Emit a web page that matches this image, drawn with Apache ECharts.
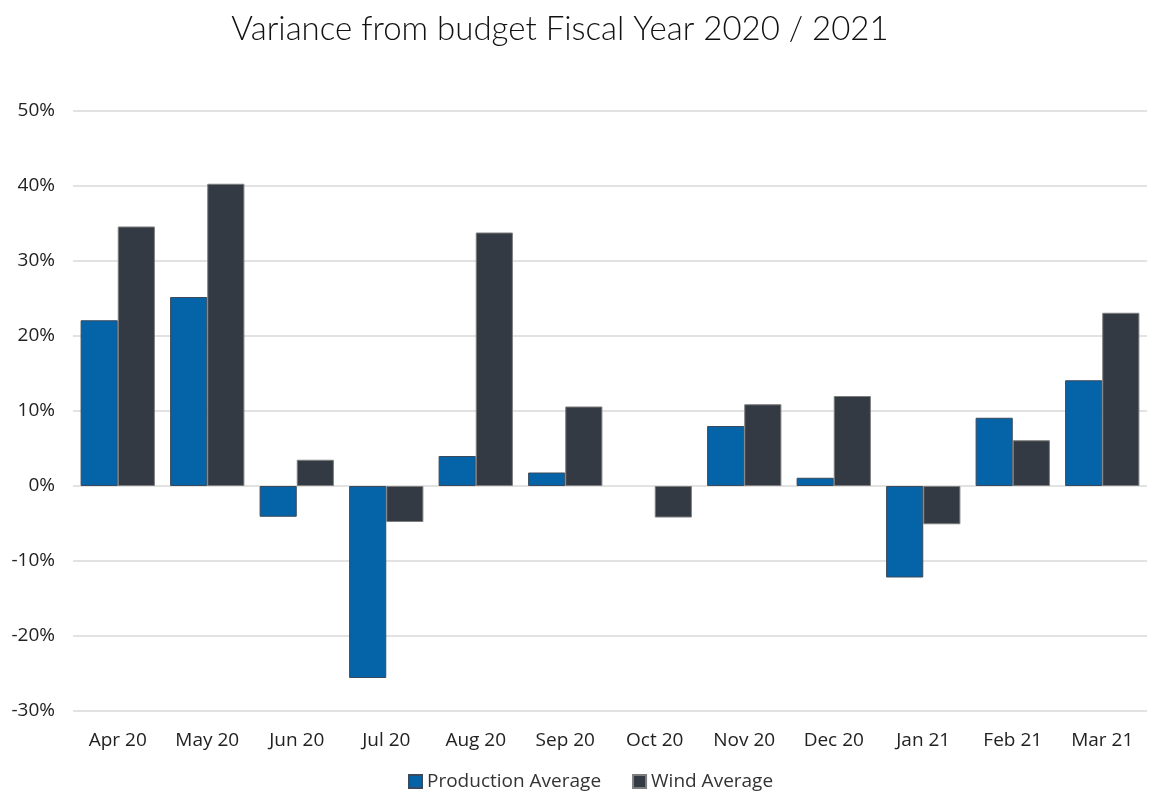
<!DOCTYPE html>
<html>
<head>
<meta charset="utf-8">
<script src="https://cdn.jsdelivr.net/npm/echarts@6/dist/echarts.min.js"></script>
<style>html,body{margin:0;padding:0;background:#fff}#chart{width:1150px;height:794px}</style>
</head>
<body>
<div id="chart"></div>
<script>
const categories = ['Apr 20','May 20','Jun 20','Jul 20','Aug 20','Sep 20','Oct 20','Nov 20','Dec 20','Jan 21','Feb 21','Mar 21'];
const productionAverage = [22.1, 25.2, -4.1, -25.6, 4.0, 1.8, 0, 8.0, 1.1, -12.2, 9.1, 14.1];
const windAverage = [34.6, 40.3, 3.5, -4.8, 33.8, 10.6, -4.2, 10.9, 12.0, -5.1, 6.1, 23.1];
const yTicks = { min: -30, max: 50, interval: 10 };

const chart = echarts.init(document.getElementById('chart'), null, {renderer: 'canvas'});
const labelFont = '"Open Sans", "Liberation Sans", sans-serif';
const hideZero = arr => arr.map(v => v === 0 ? {value: v, itemStyle: {borderWidth: 0}} : v);
chart.setOption({
  animation: false,
  title: {
    text: 'Variance from budget Fiscal Year 2020 / 2021',
    left: 555, top: 8, textAlign: 'center',
    textStyle: {fontFamily: 'Lato, "Open Sans", sans-serif', fontWeight: 300, fontSize: 33, color: '#111'}
  },
  legend: {
    top: 767, left: 403,
    icon: 'rect',
    itemWidth: 13, itemHeight: 13, itemGap: 31,
    textStyle: {fontFamily: labelFont, fontSize: 19, color: '#333'},
    data: ['Production Average', 'Wind Average']
  },
  grid: {left: 73, right: 3, top: 111, bottom: 83},
  xAxis: {
    type: 'category', data: categories,
    axisLine: {onZero: false, show: false},
    axisTick: {show: false},
    axisLabel: {interval: 0, margin: 20, fontFamily: labelFont, fontSize: 19, color: '#222'}
  },
  yAxis: {
    type: 'value', min: yTicks.min, max: yTicks.max, interval: yTicks.interval,
    axisLine: {show: false}, axisTick: {show: false},
    splitLine: {lineStyle: {color: '#d9d9d9', width: 1.5}},
    axisLabel: {formatter: v => v + '%', fontFamily: labelFont, fontSize: 19, color: '#222', margin: 18}
  },
  series: [
    {
      name: 'Production Average', type: 'bar', data: hideZero(productionAverage),
      barGap: '0%', barCategoryGap: '17%',
      itemStyle: {color: '#0563a8', borderColor: '#3b4a5c', borderWidth: 1}
    },
    {
      name: 'Wind Average', type: 'bar', data: hideZero(windAverage),
      itemStyle: {color: '#333a43', borderColor: '#7d7d7d', borderWidth: 1}
    }
  ]
});
</script>
</body>
</html>
